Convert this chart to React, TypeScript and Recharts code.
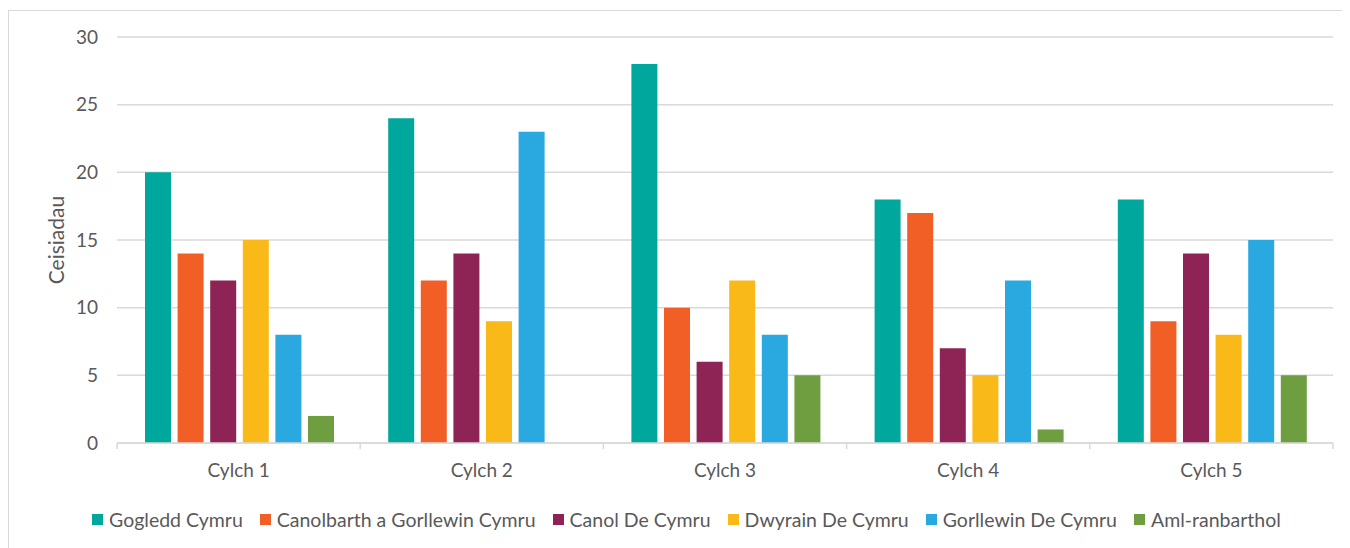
import React from 'react';
import { BarChart, Bar, XAxis, YAxis, CartesianGrid } from 'recharts';

const categories = ['Cylch 1', 'Cylch 2', 'Cylch 3', 'Cylch 4', 'Cylch 5'];
const seriesNames = [
  'Gogledd Cymru',
  'Canolbarth a Gorllewin Cymru',
  'Canol De Cymru',
  'Dwyrain De Cymru',
  'Gorllewin De Cymru',
  'Aml-ranbarthol',
];
const seriesColors = ['#00A79D', '#F15F27', '#8E2456', '#F9B918', '#2AA8E0', '#6E9E3F'];
const gogleddCymru = [20, 24, 28, 18, 18];
const canolbarthGorllewin = [14, 12, 10, 17, 9];
const canolDe = [12, 14, 6, 7, 14];
const dwyrainDe = [15, 9, 12, 5, 8];
const gorllewinDe = [8, 23, 8, 12, 15];
const amlRanbarthol = [2, 0, 5, 1, 5];
const yTicks = [0, 5, 10, 15, 20, 25, 30];
const yLabel = 'Ceisiadau';

const seriesValues = [gogleddCymru, canolbarthGorllewin, canolDe, dwyrainDe, gorllewinDe, amlRanbarthol];
const keys = ['s0', 's1', 's2', 's3', 's4', 's5'];

const data = categories.map((c, i) => {
  const row: Record<string, string | number> = { name: c };
  seriesValues.forEach((vals, j) => {
    row[keys[j]] = vals[i];
  });
  return row;
});

const FONT = 'Lato, "DejaVu Sans", sans-serif';
const TEXT = '#595959';
const GRID = '#d9d9d9';

const CHART_W = 1340;
const CHART_H = 540;
const MARGIN = { top: 26, right: 16, bottom: 68, left: 0 };
const Y_W = 108;
const HALF_BAND = (CHART_W - MARGIN.right - Y_W) / categories.length / 2;

const XTick = (props: any) => {
  const { x, y, payload, index } = props;
  const axisY = y - 21;
  return (
    <g>
      <line x1={x - HALF_BAND} x2={x - HALF_BAND} y1={axisY} y2={axisY + 6} stroke={GRID} strokeWidth={1.5} />
      {index === categories.length - 1 && (
        <line x1={x + HALF_BAND} x2={x + HALF_BAND} y1={axisY} y2={axisY + 6} stroke={GRID} strokeWidth={1.5} />
      )}
      <text x={x} y={y} dy="0.71em" textAnchor="middle" fill={TEXT} fontSize={19} fontFamily={FONT}>
        {payload.value}
      </text>
    </g>
  );
};

const YLabel = (props: any) => {
  const vb = props.viewBox || { y: MARGIN.top, height: 406 };
  const cy = vb.y + vb.height / 2;
  const cx = 46;
  return (
    <text
      x={cx}
      y={cy}
      transform={`rotate(-90, ${cx}, ${cy})`}
      textAnchor="middle"
      dominantBaseline="central"
      fill={TEXT}
      fontSize={21}
      fontFamily={FONT}
    >
      {yLabel}
    </text>
  );
};

export default function App() {
  return (
    <div
      style={{
        position: 'relative',
        width: CHART_W + 8,
        height: CHART_H,
        marginTop: 2,
        border: '1px solid #d9d9d9',
        background: '#fff',
        fontFamily: FONT,
      }}
    >
      <BarChart width={CHART_W} height={CHART_H} data={data} margin={MARGIN} barCategoryGap={28} barGap={6.6}>
        <CartesianGrid vertical={false} stroke={GRID} strokeWidth={1.5} />
        <XAxis
          dataKey="name"
          height={40}
          axisLine={{ stroke: GRID, strokeWidth: 1.5 }}
          tickLine={false}
          tickSize={6}
          tickMargin={15}
          tick={<XTick />}
          interval={0}
        />
        <YAxis
          width={Y_W}
          domain={[0, 30]}
          ticks={yTicks}
          axisLine={false}
          tickLine={false}
          tickSize={6}
          tickMargin={13}
          tick={{ fill: TEXT, fontSize: 19, fontFamily: FONT }}
          label={<YLabel />}
        />
        {keys.map((k, j) => (
          <Bar key={k} dataKey={k} name={seriesNames[j]} fill={seriesColors[j]} isAnimationActive={false} />
        ))}
      </BarChart>
      <div
        style={{
          position: 'absolute',
          left: 83,
          top: 497,
          display: 'flex',
          alignItems: 'center',
          gap: 17,
          whiteSpace: 'nowrap',
          color: TEXT,
          fontSize: 19.5,
          fontFamily: FONT,
        }}
      >
        {seriesNames.map((n, j) => (
          <div key={n} style={{ display: 'flex', alignItems: 'center' }}>
            <span style={{ width: 11, height: 11, background: seriesColors[j], marginRight: 6, display: 'inline-block' }} />
            <span>{n}</span>
          </div>
        ))}
      </div>
    </div>
  );
}
